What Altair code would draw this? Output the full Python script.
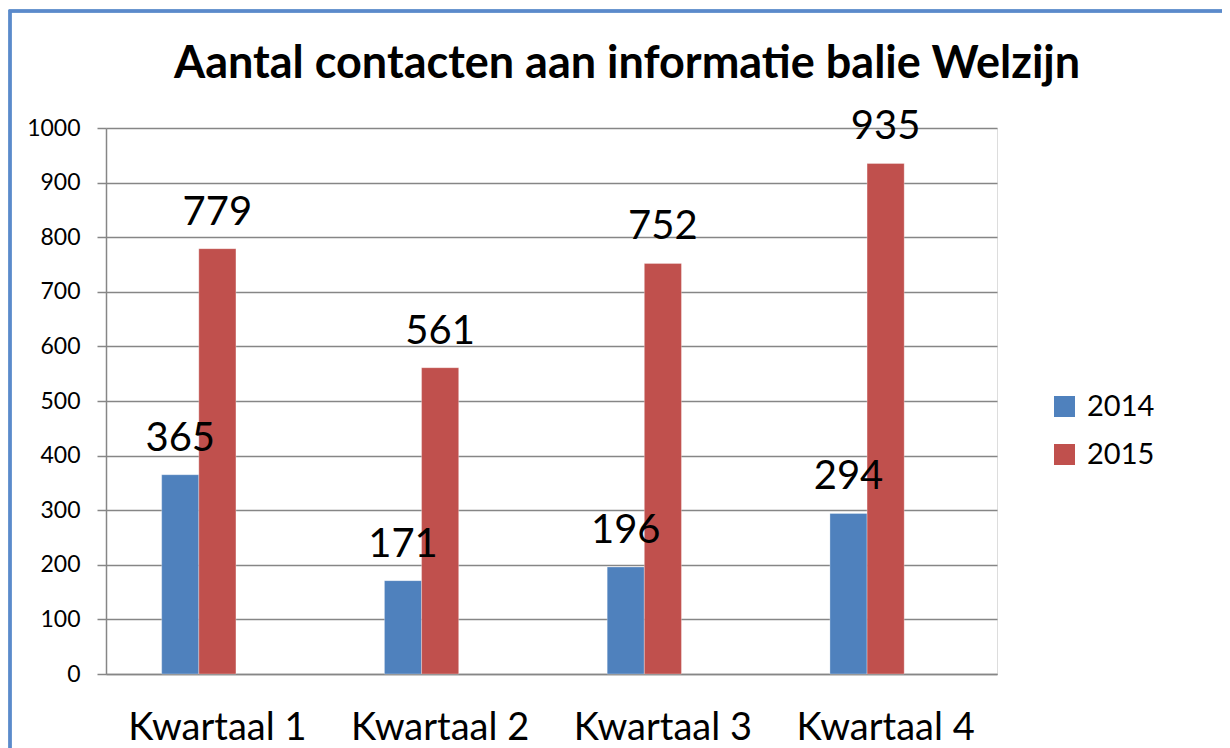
import altair as alt
import pandas as pd

quarters = ["Kwartaal 1", "Kwartaal 2", "Kwartaal 3", "Kwartaal 4"]
years = ["2014", "2015"]
values_2014 = [365, 171, 196, 294]
values_2015 = [779, 561, 752, 935]
y_ticks = [0, 100, 200, 300, 400, 500, 600, 700, 800, 900, 1000]
title_text = "Aantal contacten aan informatie balie Welzijn"

rows = []
for q, a, b in zip(quarters, values_2014, values_2015):
    rows.append({"kwartaal": q, "jaar": "2014", "aantal": a})
    rows.append({"kwartaal": q, "jaar": "2015", "aantal": b})
df = pd.DataFrame(rows)

FONT = "Lato"
W, H = 891, 546

x = alt.X("kwartaal:N", sort=quarters,
          scale=alt.Scale(paddingInner=0.5, paddingOuter=0.25),
          axis=alt.Axis(title=None, labelAngle=0, labelFontSize=38, labelFont=FONT,
                        labelColor="#000000", labelPadding=35, ticks=False,
                        domainColor="#868686", domainWidth=1.5))
xo = alt.XOffset("jaar:N", scale=alt.Scale(domain=["2014", "2015", "_"], paddingInner=0))
y = alt.Y("aantal:Q", scale=alt.Scale(domain=[0, 1000]),
          axis=alt.Axis(title=None, values=y_ticks, format="d", labelFontSize=23,
                        labelFont=FONT, labelColor="#000000", labelPadding=17,
                        tickSize=9, tickColor="#868686", tickWidth=1.5,
                        gridColor="#868686", gridWidth=1.5,
                        domainColor="#868686", domainWidth=1.5))

base = alt.Chart(df)

frame = base.mark_rect(fill=None, stroke="#5B8ACB", strokeWidth=2.5).encode(
    x=alt.value(-96), x2=alt.value(W + 400),
    y=alt.value(-117), y2=alt.value(H + 200)
)

title = alt.Chart(pd.DataFrame({"t": [title_text]})).mark_text(
    font=FONT, fontSize=45, fontWeight="bold", color="#000000",
    align="center", baseline="alphabetic"
).encode(x=alt.value(521), y=alt.value(-50), text="t:N")

bars = base.mark_bar(stroke="#ffffff", strokeWidth=0.5, strokeOpacity=0.6).encode(
    x=x, xOffset=xo, y=y,
    color=alt.Color("jaar:N", scale=alt.Scale(domain=years, range=["#4F81BD", "#C0504D"]),
                    legend=alt.Legend(title=None, orient="none", legendX=944, legendY=264,
                                      symbolType="square", symbolSize=441,
                                      symbolStrokeWidth=0, labelFontSize=29,
                                      labelFont=FONT, labelColor="#000000",
                                      rowPadding=18, labelOffset=8))
)

labels = base.mark_text(fontSize=40, font=FONT, color="#000000", dy=-24,
                        baseline="alphabetic").encode(
    x=alt.X("kwartaal:N", sort=quarters), xOffset=xo, y=y, text="aantal:Q"
)

chart = alt.layer(frame, title, bars, labels).properties(
    width=W, height=H,
    autosize=alt.AutoSizeParams(type="none"),
    padding={"left": 98, "top": 120, "right": 225, "bottom": 90},
).configure_view(stroke=None).configure(background="#ffffff")

chart.save("out.html", embed_options={"renderer": "svg", "actions": False})
